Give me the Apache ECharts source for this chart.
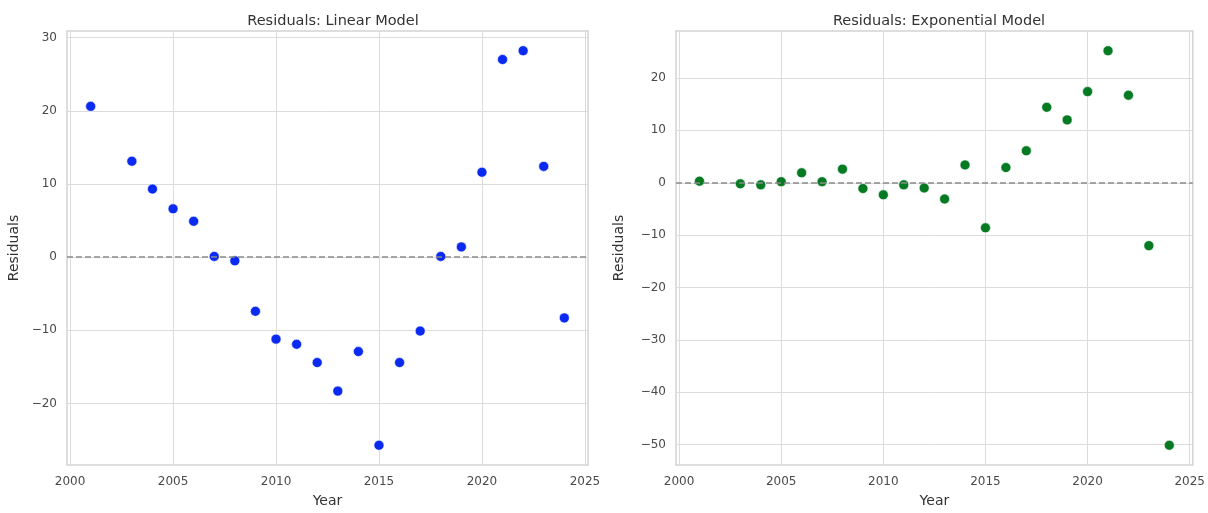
<!DOCTYPE html>
<html>
<head>
<meta charset="utf-8">
<script src="https://cdn.jsdelivr.net/npm/echarts@6/dist/echarts.min.js"></script>
<style>
  html, body { margin: 0; padding: 0; background: #fff; }
  #chart { width: 1208px; height: 513px; }
</style>
</head>
<body>
<div id="chart"></div>
<script>
// Residuals by year for the two fitted models
const years = [2001, 2003, 2004, 2005, 2006, 2007, 2008, 2009, 2010, 2011, 2012, 2013,
               2014, 2015, 2016, 2017, 2018, 2019, 2020, 2021, 2022, 2023, 2024];
const linearResiduals = [20.6, 13.1, 9.3, 6.6, 4.9, 0.1, -0.5, -7.4, -11.2, -11.9, -14.4, -18.3,
                         -12.9, -25.7, -14.4, -10.1, 0.1, 1.4, 11.6, 27.0, 28.2, 12.4, -8.3];
const expResiduals = [0.3, -0.2, -0.4, 0.2, 1.9, 0.2, 2.6, -1.1, -2.3, -0.4, -1.0, -3.1,
                      3.4, -8.6, 2.9, 6.1, 14.4, 12.0, 17.4, 25.2, 16.7, -12.0, -50.1];

const xTicks = [2000, 2005, 2010, 2015, 2020, 2025];
const yTicksLinear = [-20, -10, 0, 10, 20, 30];
const yTicksExp = [-50, -40, -30, -20, -10, 0, 10, 20];

const FONT = 'DejaVu Sans';
const TEXT = '#4a4a4a';
const GRIDLINE = '#dcdcdc';

function pad(values, frac) {
  const lo = Math.min(...values), hi = Math.max(...values);
  const m = (hi - lo) * frac;
  return [lo - m, hi + m];
}
const xRange = pad(years, 0.05);
const yLinRange = pad(linearResiduals, 0.05);
const yExpRange = pad(expResiduals, 0.05);

const plainFmt = v => String(v).replace('-', '\u2212');

function xAxis(gridIndex) {
  return {
    type: 'value', gridIndex,
    min: xRange[0], max: xRange[1],
    name: 'Year', nameLocation: 'middle', nameGap: 29,
    nameTextStyle: { fontFamily: FONT, fontSize: 14, color: '#333' },
    axisLine: { show: false },
    axisTick: { show: false, customValues: xTicks },
    axisLabel: { customValues: xTicks, formatter: plainFmt, fontFamily: FONT, fontSize: 12, color: TEXT, margin: 11 },
    splitLine: { show: true, lineStyle: { color: GRIDLINE, width: 1 } }
  };
}
function yAxis(gridIndex, range, ticks, gap) {
  return {
    type: 'value', gridIndex,
    min: range[0], max: range[1],
    name: 'Residuals', nameLocation: 'middle', nameGap: gap,
    nameTextStyle: { fontFamily: FONT, fontSize: 14, color: '#333' },
    axisLine: { show: false },
    axisTick: { show: false, customValues: ticks },
    axisLabel: { customValues: ticks, formatter: plainFmt, fontFamily: FONT, fontSize: 12, color: TEXT, margin: 10 },
    splitLine: { show: true, lineStyle: { color: GRIDLINE, width: 1 } }
  };
}
function zeroLine() {
  return {
    silent: true, symbol: 'none', label: { show: false },
    lineStyle: { color: '#8a8a8a', type: [6, 3], width: 1.5 },
    data: [{ yAxis: 0 }]
  };
}

const chart = echarts.init(document.getElementById('chart'), null, { renderer: 'canvas' });
chart.setOption({
  backgroundColor: '#fff',
  animation: false,
  title: [
    { text: 'Residuals: Linear Model', left: 328, top: 9, textAlign: 'center',
      textStyle: { fontFamily: FONT, fontSize: 14.5, fontWeight: 'normal', color: '#333' } },
    { text: 'Residuals: Exponential Model', left: 934, top: 9, textAlign: 'center',
      textStyle: { fontFamily: FONT, fontSize: 14.5, fontWeight: 'normal', color: '#333' } }
  ],
  grid: [
    { left: 67, right: 620, top: 31, bottom: 47, show: true, borderColor: '#d4d4d4', borderWidth: 1.5, backgroundColor: 'transparent' },
    { left: 676, right: 15, top: 31, bottom: 47, show: true, borderColor: '#d4d4d4', borderWidth: 1.5, backgroundColor: 'transparent' }
  ],
  xAxis: [xAxis(0), xAxis(1)],
  yAxis: [yAxis(0, yLinRange, yTicksLinear, 46), yAxis(1, yExpRange, yTicksExp, 50)],
  series: [
    {
      type: 'scatter', xAxisIndex: 0, yAxisIndex: 0,
      data: years.map((y, i) => [y, linearResiduals[i]]),
      symbolSize: 10,
      itemStyle: { color: '#0a2af2', borderColor: '#fff', borderWidth: 0.6, opacity: 1 },
      markLine: zeroLine(), z: 3
    },
    {
      type: 'scatter', xAxisIndex: 1, yAxisIndex: 1,
      data: years.map((y, i) => [y, expResiduals[i]]),
      symbolSize: 10,
      itemStyle: { color: '#067a22', borderColor: '#fff', borderWidth: 0.6, opacity: 1 },
      markLine: zeroLine(), z: 3
    }
  ]
});
</script>
</body>
</html>
